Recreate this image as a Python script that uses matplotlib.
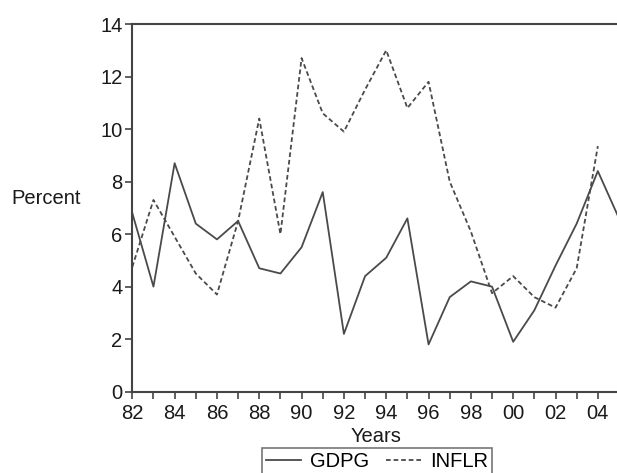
import matplotlib
matplotlib.use("Agg")
import matplotlib.pyplot as plt
import numpy as np

plt.rcParams['font.family'] = ['Liberation Sans', 'DejaVu Sans']

years = list(range(1982, 2006))
gdpg = [6.8, 4.0, 8.7, 6.4, 5.8, 6.5, 4.7, 4.5, 5.5, 7.6, 2.2, 4.4,
        5.1, 6.6, 1.8, 3.6, 4.2, 4.0, 1.9, 3.1, 4.8, 6.4, 8.4, 6.6]
infl_years = list(range(1982, 2005))
inflr = [4.75, 7.3, 5.9, 4.5, 3.7, 6.5, 10.4, 6.0, 12.7, 10.6, 9.9, 11.5,
         13.0, 10.8, 11.8, 8.0, 6.1, 3.75, 4.4, 3.6, 3.2, 4.7, 9.35]
yticks = [0, 2, 4, 6, 8, 10, 12, 14]
xlabel_years = list(range(1982, 2005, 2))

FS = 14.5
fig = plt.figure(figsize=(6.17, 4.73), dpi=100)
ax = fig.add_axes([132.3 / 617, 81.3 / 473, (619 - 132.3) / 617, (391.7 - 24) / 473])

line_col = '#4a4a4a'
l1, = ax.plot(years, gdpg, color=line_col, lw=1.3, label='GDPG')
l2, = ax.plot(infl_years, inflr, color=line_col, lw=1.3, ls=(0, (2.6, 1.6)), label='INFLR')

ax.set_xlim(1982, 2005)
ax.set_ylim(0, 14)
ax.set_yticks(yticks)
ax.set_yticklabels([str(v) for v in yticks])
ax.set_xticks(years, minor=False)
ax.set_xticklabels([("%02d" % (y % 100)) if y in xlabel_years else '' for y in years])

spine_col = '#444444'
for s in ['left', 'top', 'bottom', 'right']:
    ax.spines[s].set_color(spine_col)
    ax.spines[s].set_linewidth(1.5)
ax.tick_params(axis='both', direction='out', length=5, width=1.2, colors=spine_col,
               labelcolor='#1a1a1a', labelsize=FS)
ax.tick_params(axis='x', pad=3.5)
ax.tick_params(axis='y', pad=2)

ax.set_xlabel('Years', fontsize=FS, color='#1a1a1a', labelpad=3.5)
fig.text(46 / 617, 1 - 198 / 473, 'Percent', fontsize=FS, color='#1a1a1a',
         ha='center', va='center')

leg = fig.legend(handles=[l1, l2], loc='upper center', bbox_to_anchor=(377 / 617, 1 - 448 / 473),
                 ncol=2, fontsize=FS, frameon=True, fancybox=False, handlelength=1.75,
                 handletextpad=0.45, columnspacing=0.85, borderpad=0.2, borderaxespad=0)
leg.get_frame().set_edgecolor('#555555')
leg.get_frame().set_linewidth(1.2)

fig.savefig('out.png', dpi=100)
